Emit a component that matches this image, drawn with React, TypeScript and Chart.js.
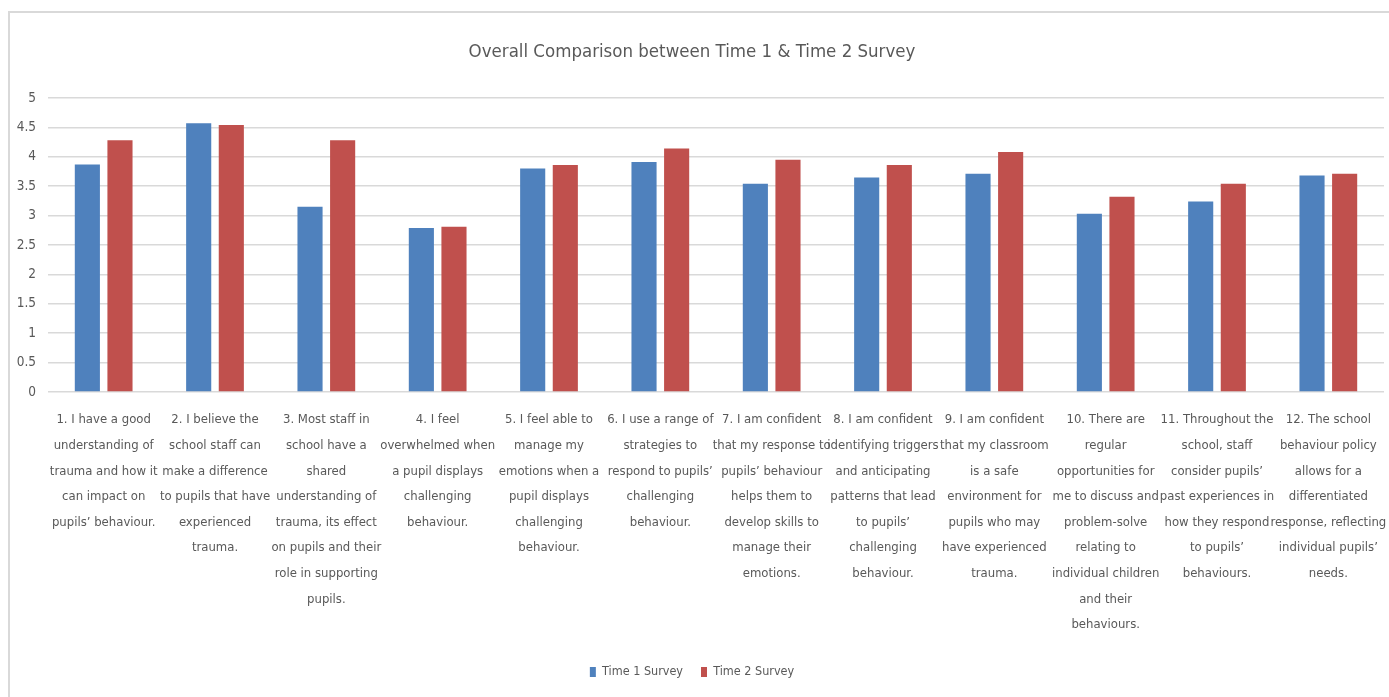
import React, { useEffect, useRef } from "react";
import { Chart, registerables } from "chart.js";

Chart.register(...registerables);

const titleText = "Overall Comparison between Time 1 & Time 2 Survey";

const categories: string[][] = [
  ["1. I have a good", "understanding of", "trauma and how it", "can impact on", "pupils’ behaviour."],
  ["2. I believe the", "school staff can", "make a difference", "to pupils that have", "experienced", "trauma."],
  ["3. Most staff in", "school have a", "shared", "understanding of", "trauma, its effect", "on pupils and their", "role in supporting", "pupils."],
  ["4. I feel", "overwhelmed when", "a pupil displays", "challenging", "behaviour."],
  ["5. I feel able to", "manage my", "emotions when a", "pupil displays", "challenging", "behaviour."],
  ["6. I use a range of", "strategies to", "respond to pupils’", "challenging", "behaviour."],
  ["7. I am confident", "that my response to", "pupils’ behaviour", "helps them to", "develop skills to", "manage their", "emotions."],
  ["8. I am confident", "identifying triggers", "and anticipating", "patterns that lead", "to pupils’", "challenging", "behaviour."],
  ["9. I am confident", "that my classroom", "is a safe", "environment for", "pupils who may", "have experienced", "trauma."],
  ["10. There are", "regular", "opportunities for", "me to discuss and", "problem-solve", "relating to", "individual children", "and their", "behaviours."],
  ["11. Throughout the", "school, staff", "consider pupils’", "past experiences in", "how they respond", "to pupils’", "behaviours."],
  ["12. The school", "behaviour policy", "allows for a", "differentiated", "response, reflecting", "individual pupils’", "needs."],
];

const seriesNames = ["Time 1 Survey", "Time 2 Survey"];
const time1Values = [3.87, 4.57, 3.15, 2.79, 3.8, 3.91, 3.54, 3.65, 3.71, 3.03, 3.24, 3.68];
const time2Values = [4.28, 4.54, 4.28, 2.81, 3.86, 4.14, 3.95, 3.86, 4.08, 3.32, 3.54, 3.71];

const FONT = "'Liberation Sans Narrow', 'DejaVu Sans Condensed', 'Roboto', sans-serif";
const TEXT = "#595959";

const frame = {
  id: "frame",
  beforeDraw(chart: any) {
    const ctx = chart.ctx;
    ctx.save();
    ctx.fillStyle = "#ffffff";
    ctx.fillRect(0, 0, chart.width, chart.height);
    ctx.strokeStyle = "#d9d9d9";
    ctx.lineWidth = 2;
    ctx.strokeRect(9, 12, chart.width + 20, chart.height + 20);
    ctx.restore();
  },
};

export default function App() {
  const ref = useRef<HTMLCanvasElement | null>(null);
  useEffect(() => {
    document.body.style.margin = "0";
    const canvas = ref.current!;
    const chart = new Chart(canvas, {
      type: "bar",
      data: {
        labels: categories,
        datasets: [
          { label: seriesNames[0], data: time1Values, backgroundColor: "#4F81BD" },
          { label: seriesNames[1], data: time2Values, backgroundColor: "#C0504D" },
        ],
      },
      options: {
        animation: false,
        responsive: false,
        categoryPercentage: 0.586,
        barPercentage: 0.77,
        layout: { padding: { top: 0, left: 0, right: 5, bottom: 8.75 } },
        plugins: {
          title: {
            display: true,
            text: titleText,
            color: TEXT,
            font: { family: FONT, size: 18.5, weight: "normal" },
            padding: { top: 40.9, bottom: 34.9 },
          },
          legend: {
            position: "bottom",
            labels: {
              boxWidth: 6,
              boxHeight: 10,
              color: TEXT,
              font: { family: FONT, size: 12.5 },
              padding: 18,
            },
          },
          tooltip: { enabled: false },
        },
        scales: {
          x: {
            grid: { display: false, drawTicks: false },
            border: { display: false },
            ticks: {
              autoSkip: false,
              maxRotation: 0,
              minRotation: 0,
              padding: 15.2,
              color: TEXT,
              font: { family: FONT, size: 13, lineHeight: 1.969 },
            },
            afterFit: (s: any) => {
              s.height = 255.75;
              s.paddingLeft = 0;
              s.paddingRight = 0;
            },
          },
          y: {
            min: 0,
            max: 5,
            ticks: {
              stepSize: 0.5,
              padding: 12,
              color: TEXT,
              font: { family: FONT, size: 13.5 },
              callback: (v: any) => String(Number(v)),
            },
            grid: { color: "#d9d9d9", lineWidth: 1.5, drawTicks: false },
            border: { display: false },
            afterFit: (s: any) => {
              s.width = 48;
            },
          },
        },
      },
      plugins: [frame],
    });
    return () => chart.destroy();
  }, []);
  return (
    <div style={{ width: 1389, height: 697 }}>
      <canvas ref={ref} width={1389} height={697} />
    </div>
  );
}
